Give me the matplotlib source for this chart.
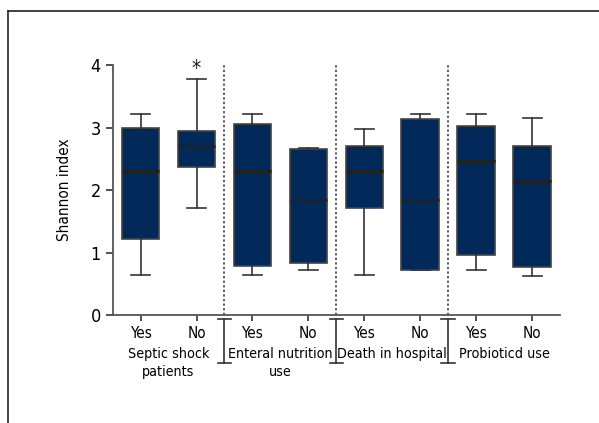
import matplotlib
matplotlib.use("Agg")
from matplotlib import pyplot as plt
from matplotlib.lines import Line2D

plt.rcParams['font.family'] = ['DejaVu Sans']
plt.rcParams['font.stretch'] = 'condensed'

groups = ["Septic shock\npatients", "Enteral nutrition\nuse", "Death in hospital", "Probioticd use"]
tick_labels = ["Yes", "No", "Yes", "No", "Yes", "No", "Yes", "No"]

whislo = [0.64, 1.72, 0.64, 0.72, 0.64, 0.72, 0.72, 0.63]
q1 = [1.22, 2.37, 0.79, 0.83, 1.71, 0.72, 0.96, 0.77]
med = [2.31, 2.70, 2.31, 1.84, 2.31, 1.84, 2.47, 2.15]
q3 = [2.99, 2.95, 3.05, 2.66, 2.70, 3.14, 3.02, 2.70]
whishi = [3.21, 3.77, 3.21, 2.68, 2.98, 3.21, 3.21, 3.15]

stats = []
for i in range(len(tick_labels)):
    stats.append(dict(whislo=whislo[i], q1=q1[i], med=med[i], q3=q3[i],
                      whishi=whishi[i], fliers=[], label=tick_labels[i]))

fig = plt.figure(figsize=(5.99, 4.23), dpi=100)
ax = fig.add_axes([0.188, 0.2553, 0.747, 0.591])

pos = list(range(1, 9))
ax.bxp(stats, positions=pos, widths=0.67, patch_artist=True, showfliers=False,
       boxprops=dict(facecolor="#012a5a", edgecolor="#444444", linewidth=1.2),
       medianprops=dict(color="#222222", linewidth=2.2),
       whiskerprops=dict(color="#333333", linewidth=1.2),
       capprops=dict(color="#333333", linewidth=1.2),
       capwidths=0.34)

ax.set_xlim(0.5, 8.5)
ax.set_ylim(0, 4)
ax.set_yticks([0, 1, 2, 3, 4])
ax.set_xticks(pos)
ax.set_xticklabels(tick_labels, fontsize=11)
ax.tick_params(axis="y", labelsize=13, length=5, width=1.2, color="#333333")
ax.tick_params(axis="x", length=4, width=1.2, color="#333333", pad=4)
for s in ["top", "right"]:
    ax.spines[s].set_visible(False)
for s in ["left", "bottom"]:
    ax.spines[s].set_color("#555555")
    ax.spines[s].set_linewidth(1.3)
ax.set_ylabel("Shannon index", fontsize=11, labelpad=13)

# asterisk above septic shock "No"
ax.text(2, 3.93, "*", ha="center", va="center", fontsize=15, color="#222222")

# separators between groups
for xs in [2.5, 4.5, 6.5]:
    ax.plot([xs, xs], [0, 4], linestyle=(0, (1.5, 1.5)), color="#333333", linewidth=1.1)
    ax.plot([xs, xs], [-0.07, -0.77], color="#333333", linewidth=1.2, clip_on=False)
    ax.plot([xs - 0.12, xs + 0.12], [-0.07, -0.07], color="#333333", linewidth=1.2, clip_on=False)
    ax.plot([xs - 0.12, xs + 0.12], [-0.77, -0.77], color="#333333", linewidth=1.2, clip_on=False)

# group labels
for i, g in enumerate(groups):
    ax.text(1.5 + 2 * i, -0.51, g, ha="center", va="top", fontsize=10.3,
            linespacing=1.35, clip_on=False)

# frame lines of the panel
fig.add_artist(Line2D([8 / 599, 1], [1 - 11 / 423, 1 - 11 / 423], color="#222222", linewidth=1.2))
fig.add_artist(Line2D([8 / 599, 8 / 599], [0, 1 - 11 / 423], color="#222222", linewidth=1.2))

fig.savefig("out.png", dpi=100)
